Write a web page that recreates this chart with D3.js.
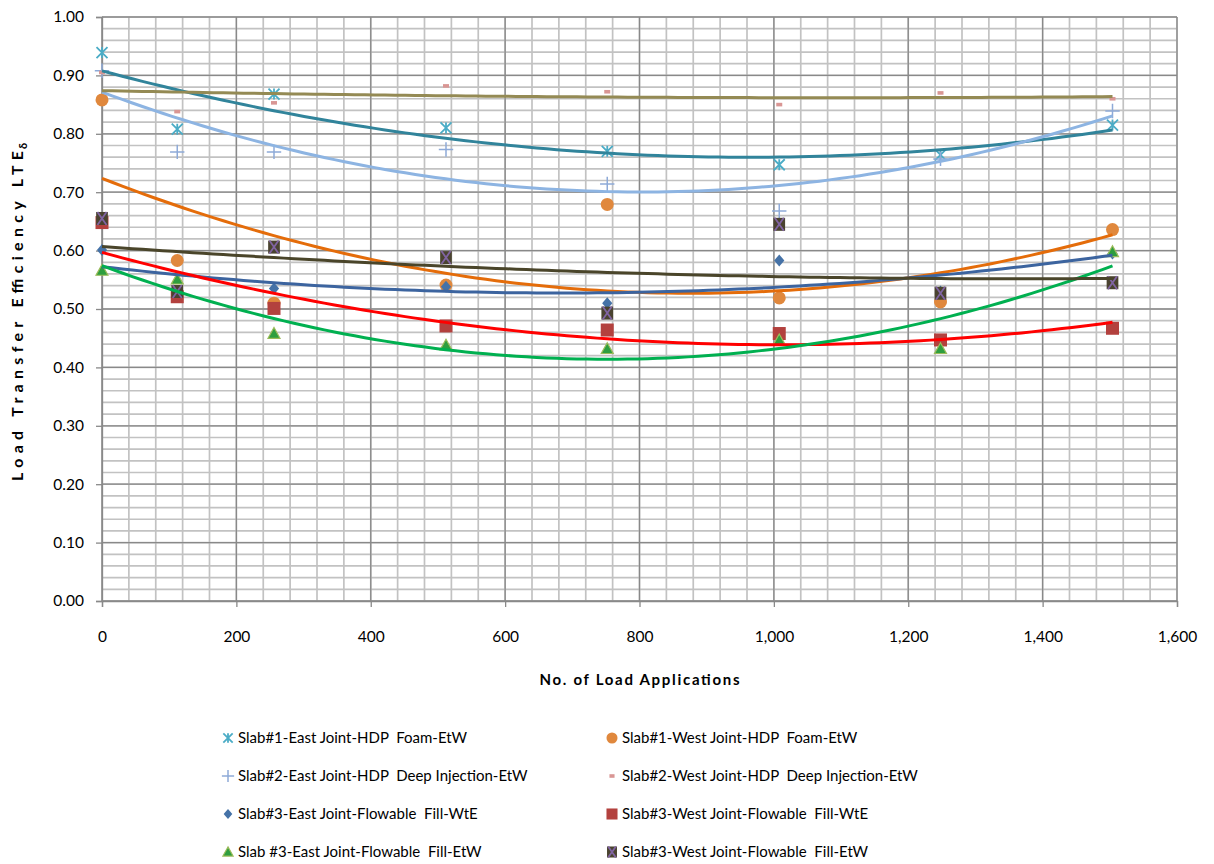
<!DOCTYPE html>
<html>
<head>
<meta charset="utf-8">
<script src="https://cdn.jsdelivr.net/npm/d3@7"></script>
<style>
body { margin: 0; background: #fff; }
text { font-family: Lato, "Open Sans", sans-serif; fill: #000; }
</style>
</head>
<body>
<div id="chart"></div>
<script>
// LTE vs number of load applications

//data
var loads = [0, 112, 256, 512, 752, 1008, 1248, 1504];

var s1East    = [0.939, 0.808, 0.868, 0.810, 0.770, 0.747, 0.764, 0.815];
var s1West    = [0.858, 0.583, 0.510, 0.541, 0.679, 0.519, 0.512, 0.636];
var s2East    = [0.908, 0.769, 0.769, 0.773, 0.714, 0.668, 0.757, 0.839];
var s2West    = [0.905, 0.838, 0.853, 0.882, 0.872, 0.850, 0.870, 0.860];
var s3EastWtE = [0.601, 0.530, 0.535, 0.538, 0.510, 0.583, 0.530, 0.595];
var s3WestWtE = [0.648, 0.521, 0.501, 0.471, 0.464, 0.458, 0.447, 0.467];
var s3EastEtW = [0.566, 0.551, 0.458, 0.438, 0.432, 0.447, 0.432, 0.598];
var s3WestEtW = [0.655, 0.530, 0.606, 0.588, 0.493, 0.645, 0.527, 0.545];

var seriesNames = ["Slab#1-East Joint-HDP  Foam-EtW", "Slab#1-West Joint-HDP  Foam-EtW",
	"Slab#2-East Joint-HDP  Deep Injection-EtW", "Slab#2-West Joint-HDP  Deep Injection-EtW",
	"Slab#3-East Joint-Flowable  Fill-WtE", "Slab#3-West Joint-Flowable  Fill-WtE",
	"Slab #3-East Joint-Flowable  Fill-EtW", "Slab#3-West Joint-Flowable  Fill-EtW"];

var xTicks = [0, 200, 400, 600, 800, 1000, 1200, 1400, 1600];
var yTicks = [0, 0.1, 0.2, 0.3, 0.4, 0.5, 0.6, 0.7, 0.8, 0.9, 1.0];

var series = [
	{name: seriesNames[0], values: s1East,    marker: "asterisk", color: "#4bacc6", trend: "#31849b"},
	{name: seriesNames[1], values: s1West,    marker: "circle",   color: "#e0883d", trend: "#e46c0a"},
	{name: seriesNames[2], values: s2East,    marker: "plus",     color: "#8eaad8", trend: "#8db4e2"},
	{name: seriesNames[3], values: s2West,    marker: "dash",     color: "#d99694", trend: "#948a54"},
	{name: seriesNames[4], values: s3EastWtE, marker: "diamond",  color: "#4572a7", trend: "#3c649f"},
	{name: seriesNames[5], values: s3WestWtE, marker: "square",   color: "#b3413e", trend: "#ff0000"},
	{name: seriesNames[6], values: s3EastEtW, marker: "triangle", color: "#2e9e3f", trend: "#00b050"},
	{name: seriesNames[7], values: s3WestEtW, marker: "xsquare",  color: "#4a4330", trend: "#4a452a"}
];

var m = [17, 37, 263, 102]; //top right bottom left
var w = 1214 - m[1] - m[3];
var h = 864 - m[0] - m[2];

var x = d3.scaleLinear().domain([0, 1600]).range([0, w]);
var y = d3.scaleLinear().domain([0, 1]).range([h, 0]);

var svg = d3.select("#chart").append("svg")
	.attr("width", 1214)
	.attr("height", 864);

var g = svg.append("g")
	.attr("transform", "translate(" + m[3] + "," + m[0] + ")");

// minor grid
g.append("g").selectAll("line")
	.data(d3.range(0, 1601, 40))
	.enter().append("line")
	.attr("x1", function(d) {return x(d);})
	.attr("x2", function(d) {return x(d);})
	.attr("y1", 0).attr("y2", h)
	.attr("stroke", "#c2c2c2").attr("stroke-width", 1.7);

g.append("g").selectAll("line")
	.data(d3.range(0, 51, 1).map(function(i) {return i * 0.02;}))
	.enter().append("line")
	.attr("y1", function(d) {return y(d);})
	.attr("y2", function(d) {return y(d);})
	.attr("x1", 0).attr("x2", w)
	.attr("stroke", "#c2c2c2").attr("stroke-width", 1.7);

// major grid
g.append("g").selectAll("line")
	.data(xTicks)
	.enter().append("line")
	.attr("x1", function(d) {return x(d);})
	.attr("x2", function(d) {return x(d);})
	.attr("y1", 0).attr("y2", h)
	.attr("stroke", "#898989").attr("stroke-width", 1.3);

g.append("g").selectAll("line")
	.data(yTicks)
	.enter().append("line")
	.attr("y1", function(d) {return y(d);})
	.attr("y2", function(d) {return y(d);})
	.attr("x1", 0).attr("x2", w)
	.attr("stroke", "#898989").attr("stroke-width", 1.3);

// axes
var xAxis = g.append("g")
	.attr("transform", "translate(0," + h + ")")
	.call(d3.axisBottom(x).tickValues(xTicks).tickSize(6).tickPadding(24).tickFormat(d3.format(",")));
var yAxis = g.append("g")
	.call(d3.axisLeft(y).tickValues(yTicks).tickSize(6).tickPadding(12).tickFormat(d3.format(".2f")));

[xAxis, yAxis].forEach(function(a) {
	a.select(".domain").attr("stroke", "#898989").attr("stroke-width", 1.3);
	a.selectAll(".tick line").attr("stroke", "#898989").attr("stroke-width", 1.3);
	a.selectAll(".tick text").style("font-size", "15.5px").style("font-family", "Lato, 'Open Sans', sans-serif");
});

// axis titles
svg.append("text")
	.attr("x", m[3] + w / 2 - 100)
	.attr("y", 685)
	.attr("textLength", 200)
	.attr("lengthAdjust", "spacing")
	.style("font-size", "15px")
	.style("font-weight", "bold")
	.text("No. of Load Applications");

var yTitle = svg.append("g")
	.attr("transform", "translate(23," + (m[0] + h / 2) + ") rotate(-90)");
yTitle.append("text")
	.attr("x", -172)
	.attr("textLength", 330)
	.attr("lengthAdjust", "spacing")
	.style("font-size", "16px")
	.style("font-weight", "bold")
	.text("Load Transfer  Efficiency  LTE");
yTitle.append("text")
	.attr("x", 160)
	.attr("dy", 4)
	.style("font-size", "11px")
	.style("font-weight", "bold")
	.text("δ");

// polynomial (order 2) trendline by least squares
function quadFit(xs, ys) {
	var s = [0, 0, 0, 0, 0], t = [0, 0, 0];
	xs.forEach(function(xv, i) {
		var u = xv / 1000;
		for (var k = 0; k < 5; k++) s[k] += Math.pow(u, k);
		for (var k = 0; k < 3; k++) t[k] += ys[i] * Math.pow(u, k);
	});
	var A = [[s[0], s[1], s[2], t[0]], [s[1], s[2], s[3], t[1]], [s[2], s[3], s[4], t[2]]];
	for (var c = 0; c < 3; c++) {
		for (var r = c + 1; r < 3; r++) {
			var f = A[r][c] / A[c][c];
			for (var k = c; k < 4; k++) A[r][k] -= f * A[c][k];
		}
	}
	var b = [0, 0, 0];
	for (var r = 2; r >= 0; r--) {
		var v = A[r][3];
		for (var k = r + 1; k < 3; k++) v -= A[r][k] * b[k];
		b[r] = v / A[r][r];
	}
	return function(xv) {var u = xv / 1000; return b[0] + b[1] * u + b[2] * u * u;};
}

var line = d3.line()
	.x(function(d) {return x(d[0]);})
	.y(function(d) {return y(d[1]);});

var xMax = d3.max(loads);
series.forEach(function(s) {
	var f = quadFit(loads, s.values);
	s.path = d3.range(0, 101).map(function(i) {var xv = xMax * i / 100; return [xv, f(xv)];});
});

// markers
function drawMarker(sel, type, color, size) {
	var r = size / 2;
	if (type === "asterisk") {
		var p = "M" + (-r) + "," + (-r) + "L" + r + "," + r + "M" + (-r) + "," + r + "L" + r + "," + (-r) + "M0," + (-r) + "L0," + r;
		sel.append("path").attr("d", p).attr("stroke", color).attr("stroke-width", 1.8).attr("fill", "none");
	} else if (type === "circle") {
		sel.append("circle").attr("r", r).attr("fill", color);
	} else if (type === "plus") {
		r = r * 1.2;
		sel.append("path").attr("d", "M" + (-r) + ",0L" + r + ",0M0," + (-r) + "L0," + r)
			.attr("stroke", color).attr("stroke-width", 1.5).attr("fill", "none");
	} else if (type === "dash") {
		sel.append("rect").attr("x", -r * 0.75).attr("y", -1.8).attr("width", r * 1.5).attr("height", 3.6).attr("fill", color);
	} else if (type === "diamond") {
		sel.append("path").attr("d", "M0," + (-r) + "L" + r * 0.85 + ",0L0," + r + "L" + (-r * 0.85) + ",0Z").attr("fill", color);
	} else if (type === "square") {
		sel.append("rect").attr("x", -r).attr("y", -r).attr("width", 2 * r).attr("height", 2 * r).attr("fill", color);
	} else if (type === "triangle") {
		sel.append("path").attr("d", "M0," + (-r) + "L" + r + "," + r * 0.8 + "L" + (-r) + "," + r * 0.8 + "Z")
			.attr("fill", color).attr("stroke", "#9bbb59").attr("stroke-width", 1.2);
	} else if (type === "xsquare") {
		sel.append("rect").attr("x", -r * 0.9).attr("y", -r).attr("width", 1.8 * r).attr("height", 2 * r).attr("fill", color);
		var q = r * 0.7;
		sel.append("path").attr("d", "M" + (-q) + "," + (-r) + "L" + q + "," + r + "M" + (-q) + "," + r + "L" + q + "," + (-r))
			.attr("stroke", "#8064a2").attr("stroke-width", 1.8);
	}
}

var markerSize = {asterisk: 11, circle: 13, plus: 12, dash: 8, diamond: 12, square: 13, triangle: 12, xsquare: 13};

// draw markers first, trendlines on top
series.forEach(function(s) {
	var mg = g.append("g");
	loads.forEach(function(xv, i) {
		var pg = mg.append("g").attr("transform", "translate(" + x(xv) + "," + y(s.values[i]) + ")");
		drawMarker(pg, s.marker, s.color, markerSize[s.marker]);
	});
});

series.forEach(function(s) {
	g.append("path")
		.datum(s.path)
		.attr("d", line)
		.attr("fill", "none")
		.attr("stroke", s.trend)
		.attr("stroke-width", 3);
});

// legend
var legend = svg.append("g");
series.forEach(function(s, i) {
	var col = i % 2, row = Math.floor(i / 2);
	var lx = col === 0 ? 228 : 612;
	var ly = 738 + row * 38;
	var lg = legend.append("g").attr("transform", "translate(" + lx + "," + ly + ")");
	drawMarker(lg, s.marker, s.color, markerSize[s.marker] * 0.85);
	lg.append("text")
		.attr("x", 10)
		.attr("dy", "0.35em")
		.style("font-size", "15px")
		.style("white-space", "pre")
		.text(s.name);
});
</script>
</body>
</html>
